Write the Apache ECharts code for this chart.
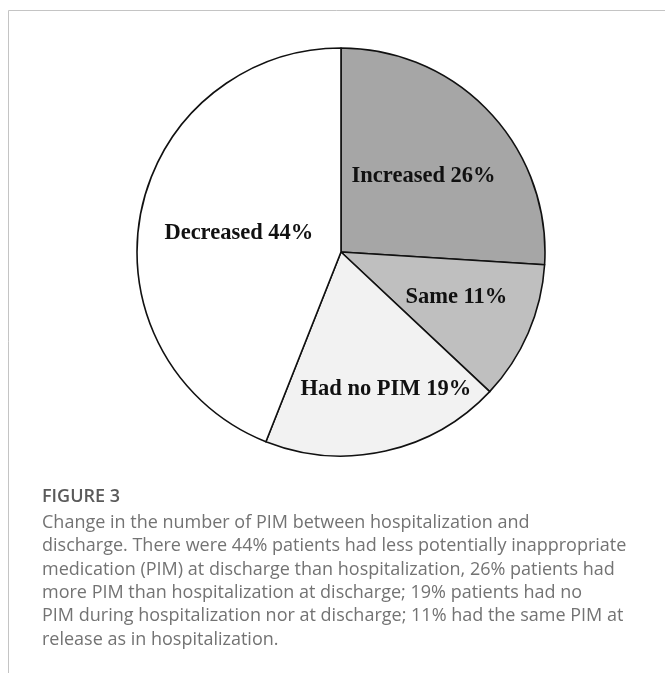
<!DOCTYPE html>
<html>
<head>
<meta charset="utf-8">
<script src="https://cdn.jsdelivr.net/npm/echarts@6/dist/echarts.min.js"></script>
<style>
  html, body { margin: 0; padding: 0; background: #fff; }
  #chart { width: 665px; height: 673px; }
</style>
</head>
<body>
<div id="chart"></div>
<script>
// Change in PIM count between hospitalization and discharge (percent of patients)
const categories = ['Increased', 'Same', 'Had no PIM', 'Decreased'];
const percentages = [26, 11, 19, 44];
const sliceColors = ['#a6a6a6', '#bfbfbf', '#f2f2f2', '#ffffff'];
// nudges for the in-slice labels, in px
const labelOffsets = [[6, -4], [19, 3], [22, 35], [1, 1]];

const captionTitle = 'FIGURE 3';
const captionLines = [
  'Change in the number of PIM between hospitalization and',
  'discharge. There were 44% patients had less potentially inappropriate',
  'medication (PIM) at discharge than hospitalization, 26% patients had',
  'more PIM than hospitalization at discharge; 19% patients had no',
  'PIM during hospitalization nor at discharge; 11% had the same PIM at',
  'release as in hospitalization.'
];

const chart = echarts.init(document.getElementById('chart'), null, { renderer: 'canvas' });

const pieData = categories.map((name, i) => ({
  name: name,
  value: percentages[i],
  itemStyle: { color: sliceColors[i] },
  label: { offset: labelOffsets[i] }
}));

chart.setOption({
  animation: false,
  backgroundColor: '#ffffff',
  graphic: [
    { type: 'line', shape: { x1: 8.5, y1: 10.5, x2: 665, y2: 10.5 }, style: { stroke: '#c4c4c4', lineWidth: 1 } },
    { type: 'line', shape: { x1: 8.5, y1: 10.5, x2: 8.5, y2: 673 }, style: { stroke: '#c4c4c4', lineWidth: 1 } },
    {
      type: 'text', left: 42, top: 488,
      style: { text: captionTitle, font: '600 18px "Open Sans"', fill: '#5a5a5a' }
    },
    {
      type: 'text', left: 42, top: 511,
      style: { text: captionLines.join('\n'), font: '18px "Open Sans"', lineHeight: 23.4, fill: '#737373' }
    }
  ],
  series: [{
    type: 'pie',
    center: [341, 252],
    radius: 204,
    startAngle: 90,
    clockwise: true,
    silent: true,
    emphasis: { disabled: true },
    itemStyle: { borderColor: '#111111', borderWidth: 1.6 },
    label: {
      show: true,
      position: 'inside',
      formatter: p => p.name + ' ' + p.value + '%',
      fontFamily: '"Liberation Serif", "Times New Roman", serif',
      fontWeight: 'bold',
      fontSize: 22.5,
      color: '#111111'
    },
    labelLine: { show: false },
    data: pieData
  }]
});
</script>
</body>
</html>
